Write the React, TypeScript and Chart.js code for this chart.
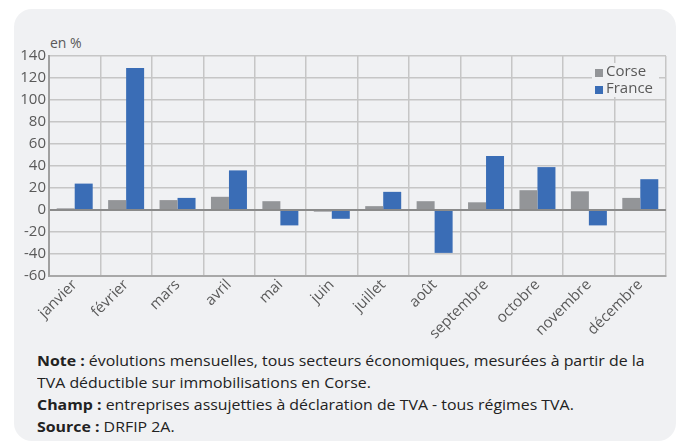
import React, { useEffect, useRef } from "react";
import { Chart, registerables } from "chart.js";

Chart.register(...registerables);

const categories = ["janvier", "février", "mars", "avril", "mai", "juin", "juillet", "août", "septembre", "octobre", "novembre", "décembre"];
const corseValues = [1.5, 9, 9, 12, 8, -1.5, 3.5, 8, 7, 18, 17, 11];
const franceValues = [24, 129, 11, 36, -14, -8, 16.5, -39, 49, 39, -14, 28];
const seriesNames = ["Corse", "France"];
const seriesColors = ["#939598", "#3a6db6"];
const yMin = -60;
const yMax = 140;
const yStep = 20;

const FONT = "'Open Sans', 'DejaVu Sans', sans-serif";
const CARD_BG = "#f0f1f3";

const legendPlugin = {
  id: "customLegend",
  afterDraw(chart: any) {
    const ctx = chart.ctx;
    const area = chart.chartArea;
    const boxW = 67;
    const boxH = 34;
    const x0 = area.right - 74;
    const y0 = area.top + 7;
    ctx.save();
    ctx.fillStyle = CARD_BG;
    ctx.fillRect(x0, y0, boxW, boxH);
    ctx.font = `15px ${FONT}`;
    ctx.textBaseline = "middle";
    chart.data.datasets.forEach((ds: any, i: number) => {
      const cy = y0 + 9 + i * 17;
      ctx.fillStyle = ds.backgroundColor;
      ctx.fillRect(x0 + 3, cy - 3, 8, 8);
      ctx.fillStyle = "#595959";
      ctx.fillText(ds.label, x0 + 14, cy);
    });
    ctx.restore();
  },
};

function ChartView() {
  const ref = useRef<HTMLCanvasElement>(null);
  useEffect(() => {
    if (!ref.current) return;
    const chart = new Chart(ref.current, {
      type: "bar",
      data: {
        labels: categories,
        datasets: [
          { label: seriesNames[0], data: corseValues, backgroundColor: seriesColors[0], categoryPercentage: 0.7, barPercentage: 1.0 },
          { label: seriesNames[1], data: franceValues, backgroundColor: seriesColors[1], categoryPercentage: 0.7, barPercentage: 1.0 },
        ],
      },
      options: {
        responsive: false,
        animation: false,
        layout: { padding: { left: 0, right: 17, top: 56, bottom: 0 } },
        plugins: { legend: { display: false }, tooltip: { enabled: false } },
        scales: {
          x: {
            afterFit: (s: any) => { s.height = 69; },
            grid: { color: "#c6c6c6", lineWidth: 1.5, offset: true, drawTicks: false },
            border: { color: "#a8a8a8", width: 2 },
            ticks: { maxRotation: 45, minRotation: 45, padding: 0, color: "#595959", font: { family: FONT, size: 15 } },
          },
          y: {
            min: yMin,
            max: yMax,
            afterFit: (s: any) => { s.width = 49; },
            grid: {
              drawTicks: false,
              color: (c: any) => (c.tick && c.tick.value === 0 ? "#8a8a8a" : "#c6c6c6"),
              lineWidth: (c: any) => (c.tick && c.tick.value === 0 ? 2 : 1.5),
            },
            border: { color: "#a0a0a0", width: 2 },
            ticks: { stepSize: yStep, padding: 3, color: "#595959", font: { family: FONT, size: 15 } },
          },
        },
      },
      plugins: [legendPlugin],
    });
    return () => chart.destroy();
  }, []);
  return <canvas ref={ref} width={683} height={345} style={{ position: "absolute", left: 0, top: 0, width: 683, height: 345 }} />;
}

export default function App() {
  return (
    <div style={{ position: "fixed", left: 0, top: 0, width: 683, height: 445, background: "#ffffff", overflow: "hidden", fontFamily: FONT }}>
      <div style={{ position: "absolute", left: 14, top: 9, width: 662, height: 432, background: CARD_BG, borderRadius: 18 }} />
      <div style={{ position: "absolute", left: 50, top: 33, fontSize: 14, color: "#595959" }}>en %</div>
      <ChartView />
      <div style={{ position: "absolute", left: 37, top: 350, width: 640, fontSize: 14, lineHeight: "22px", color: "#222222", transform: "scaleX(1.135)", transformOrigin: "left top", whiteSpace: "nowrap" }}>
        <div><b>Note :</b> évolutions mensuelles, tous secteurs économiques, mesurées à partir de la</div>
        <div>TVA déductible sur immobilisations en Corse.</div>
        <div><b>Champ :</b> entreprises assujetties à déclaration de TVA - tous régimes TVA.</div>
        <div><b>Source :</b> DRFIP 2A.</div>
      </div>
    </div>
  );
}
